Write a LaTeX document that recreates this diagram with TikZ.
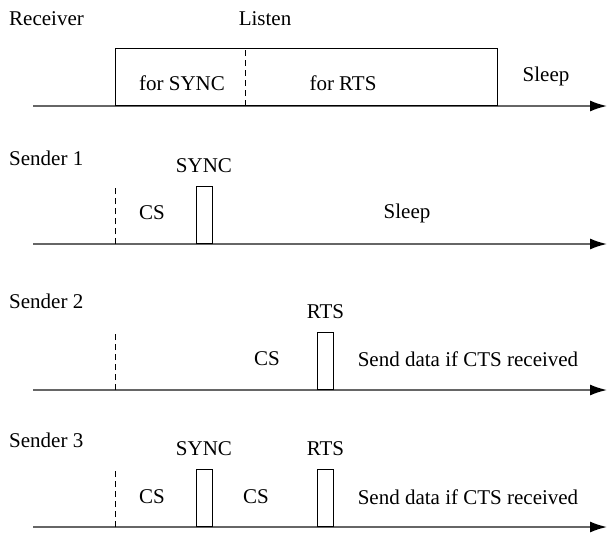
\documentclass[tikz,border=0pt]{standalone}
\usepackage{fontspec}
\setmainfont{Liberation Serif}
\usetikzlibrary{positioning,arrows.meta}
\begin{document}
\begin{tikzpicture}[x=1pt, y=-1pt, font=\fontsize{21}{25}\selectfont, node distance=13pt]

\tikzstyle{axis} = [line width=1.6pt, draw=black!60, -{Latex[length=17pt,width=11pt,color=black]}]
\tikzstyle{slot} = [draw, line width=1pt, minimum width=16pt, minimum height=57pt, inner sep=0pt, anchor=south]
\tikzstyle{sep} = [dash pattern=on 6pt off 4pt, line width=1pt]
\tikzstyle{lbl} = [inner sep=0pt]

\useasboundingbox (0,0) rectangle (608,533);

% Receiver
\node (rcv) [lbl, anchor=west] at (9,19) {Receiver};
\node (listen) [lbl] at (265,19) {Listen};
\coordinate (a0s) at (33,106);
\coordinate (a0e) at (607,106);
\draw [axis] (a0s) -- (a0e);
\node (win) [draw, line width=1pt, minimum width=382pt, minimum height=57pt, inner sep=0pt, anchor=south west] at (115,106) {};
\coordinate (cut) at (245,106);
\draw [sep] (cut) -- (cut |- win.north);
\node (forsync) [lbl] at (182,83) {for SYNC};
\node (forrts) [lbl] at (343,83) {for RTS};
\node (sleep0) [lbl] at (546,76) {Sleep};

% Sender 1
\node (snd1) [lbl, anchor=west] at (9,158) {Sender 1};
\coordinate (a1s) at (33,244);
\coordinate (a1e) at (607,244);
\draw [axis] (a1s) -- (a1e);
\node (sync1) [slot] at (204,244) {};
\node (sync1l) [lbl, above=of sync1] {SYNC};
\coordinate (cs1) at (115,244);
\draw [sep] (cs1) -- (cs1 |- sync1.north);
\node (cs1l) [lbl] at (152,213) {CS};
\node (sleep1) [lbl] at (407,213) {Sleep};

% Sender 2
\node (snd2) [lbl, anchor=west] at (9,301) {Sender 2};
\coordinate (a2s) at (33,390);
\coordinate (a2e) at (607,390);
\draw [axis] (a2s) -- (a2e);
\node (rts2) [slot] at (325.5,390) {};
\node (rts2l) [lbl, above=of rts2] {RTS};
\coordinate (cs2) at (115,390);
\draw [sep] (cs2) -- (cs2 |- rts2.north);
\node (cs2l) [lbl] at (267,359) {CS};
\node (data2) [lbl] at (468,359) {Send data if CTS received};

% Sender 3
\node (snd3) [lbl, anchor=west] at (9,440) {Sender 3};
\coordinate (a3s) at (33,527);
\coordinate (a3e) at (607,527);
\draw [axis] (a3s) -- (a3e);
\node (sync3) [slot] at (204,527) {};
\node (sync3l) [lbl, above=of sync3] {SYNC};
\node (rts3) [slot] at (325.5,527) {};
\node (rts3l) [lbl, above=of rts3] {RTS};
\coordinate (cs3) at (115,527);
\draw [sep] (cs3) -- (cs3 |- sync3.north);
\node (cs3l) [lbl] at (152,497) {CS};
\node (cs3m) [lbl] at (256,497) {CS};
\node (data3) [lbl] at (468,497) {Send data if CTS received};

\end{tikzpicture}
\end{document}
